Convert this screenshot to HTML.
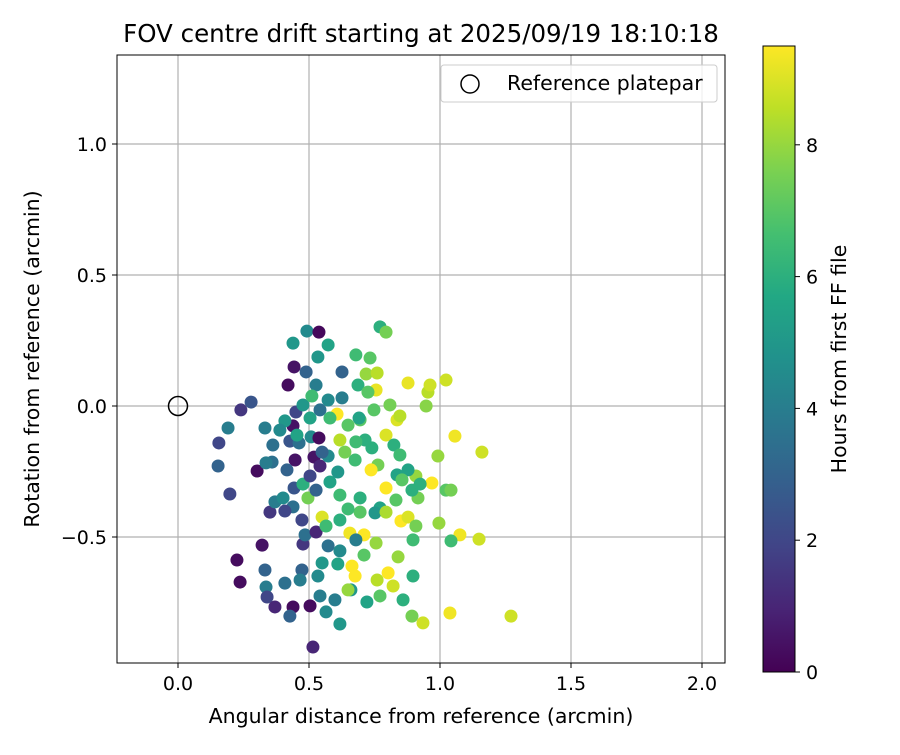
<!DOCTYPE html>
<html><head><meta charset="utf-8"><style>
body{margin:0;background:#fff}
svg text{font-family:"DejaVu Sans","Liberation Sans",sans-serif;fill:#000}
</style></head><body>
<svg id="chart" width="900" height="750" xmlns="http://www.w3.org/2000/svg">
<defs><linearGradient id="vir" x1="0" y1="1" x2="0" y2="0">
<stop offset="0" stop-color="#440154"/><stop offset="0.1" stop-color="#482475"/><stop offset="0.2" stop-color="#414487"/><stop offset="0.3" stop-color="#355f8d"/><stop offset="0.4" stop-color="#2a788e"/><stop offset="0.5" stop-color="#21918c"/><stop offset="0.6" stop-color="#22a884"/><stop offset="0.7" stop-color="#44bf70"/><stop offset="0.8" stop-color="#7ad151"/><stop offset="0.9" stop-color="#bddf26"/><stop offset="1" stop-color="#fde725"/>
</linearGradient></defs>
<rect width="900" height="750" fill="#fff"/>
<text x="421" y="42" font-size="24.5" text-anchor="middle">FOV centre drift starting at 2025/09/19 18:10:18</text>
<g id="grid"></g>
<g id="points"></g>
<rect x="117" y="55" width="608" height="608" fill="none" stroke="#000" stroke-width="1"/>
<g id="ticks"></g>
<text x="421" y="723" font-size="20.5" text-anchor="middle">Angular distance from reference (arcmin)</text>
<text transform="translate(39,359) rotate(-90)" font-size="20.5" text-anchor="middle">Rotation from reference (arcmin)</text>
<g>
<rect x="441" y="65" width="276" height="37" rx="3" fill="#fff" fill-opacity="0.8" stroke="#ccc"/>
<circle cx="470" cy="84" r="9" fill="none" stroke="#000" stroke-width="1.5"/>
<text x="507" y="90" font-size="20.5">Reference platepar</text>
</g>
<g>
<rect x="763" y="46" width="32" height="626" fill="url(#vir)" stroke="#000" stroke-width="1"/>
<g id="cbticks"></g>
<text transform="translate(846,359) rotate(-90)" font-size="20.5" text-anchor="middle">Hours from first FF file</text>
</g>
</svg>
<script>
const xTicks=[0.0,0.5,1.0,1.5,2.0];
const yTicks=[-0.5,0.0,0.5,1.0];
const cbTicks=[0,2,4,6,8];
const xs=[0.279,0.240,0.191,0.156,0.153,0.198,0.302,0.332,0.225,0.237,0.321,0.332,0.336,0.340,0.370,0.439,0.427,0.504,0.515,0.542,0.565,0.618,
0.492,0.538,0.439,0.573,0.534,0.443,0.489,0.626,0.420,0.527,0.771,0.794,0.679,0.733,0.718,0.760,0.878,0.954,0.962,1.023,0.947,0.756,0.687,0.725,
0.607,0.618,0.695,0.748,0.809,0.836,0.847,0.794,0.740,0.676,0.763,0.737,0.794,0.836,0.908,0.916,0.969,1.023,1.042,0.992,1.057,1.160,
0.851,0.878,0.908,0.996,1.076,1.042,1.149,0.897,0.840,0.656,0.710,0.756,0.710,0.664,0.676,0.802,0.821,0.771,0.859,0.897,0.893,0.935,1.038,1.271,
0.721,0.660,0.599,0.534,0.473,0.477,0.485,0.527,0.573,0.618,0.473,0.439,0.408,0.351,0.370,0.401,0.443,0.477,0.496,0.527,0.580,0.618,0.504,0.519,0.542,0.573,
0.447,0.416,0.359,0.336,0.362,0.427,0.462,0.508,0.538,0.550,0.637,0.610,0.695,0.771,0.752,0.618,0.695,0.550,0.565,0.649,
0.439,0.408,0.450,0.477,0.504,0.542,0.580,0.573,0.626,0.511,0.649,0.691,0.714,0.679,0.824,0.847,0.878,0.893,0.924,0.832,0.855,0.794,0.679,0.649,0.760,0.454,0.389,0.466,0.408,0.550,0.610];
const ys=[0.015,-0.015,-0.084,-0.141,-0.229,-0.336,-0.248,-0.084,-0.588,-0.672,-0.531,-0.626,-0.691,-0.729,-0.767,-0.767,-0.802,-0.763,-0.920,-0.725,-0.786,-0.832,
0.286,0.282,0.240,0.233,0.187,0.149,0.130,0.130,0.080,0.080,0.302,0.282,0.195,0.183,0.122,0.126,0.088,0.053,0.080,0.099,0.000,0.061,0.080,0.053,
-0.031,-0.130,-0.053,-0.015,0.004,-0.053,-0.038,-0.111,-0.160,-0.206,-0.225,-0.244,-0.313,-0.263,-0.267,-0.351,-0.294,-0.321,-0.321,-0.191,-0.115,-0.176,
-0.439,-0.424,-0.458,-0.447,-0.492,-0.515,-0.508,-0.511,-0.576,-0.485,-0.492,-0.523,-0.569,-0.611,-0.649,-0.637,-0.687,-0.725,-0.740,-0.649,-0.802,-0.828,-0.790,-0.802,
-0.748,-0.702,-0.740,-0.649,-0.626,-0.527,-0.492,-0.481,-0.534,-0.553,-0.435,-0.385,-0.401,-0.405,-0.366,-0.351,-0.313,-0.298,-0.351,-0.321,-0.290,-0.340,-0.267,-0.195,-0.229,-0.191,
-0.206,-0.244,-0.214,-0.217,-0.149,-0.134,-0.141,-0.118,-0.122,-0.176,-0.176,-0.252,-0.351,-0.389,-0.408,-0.435,-0.405,-0.424,-0.458,-0.393,
-0.076,-0.057,-0.023,0.004,-0.046,-0.015,-0.046,0.023,0.031,0.038,-0.073,-0.046,-0.130,-0.137,-0.149,-0.187,-0.244,-0.321,-0.298,-0.359,-0.282,-0.405,-0.511,-0.702,-0.664,-0.111,-0.092,-0.664,-0.676,-0.599,-0.603];
const hours=[2.5,1.5,4,2,3,2,0.3,4,0.3,0.3,0.5,3,4,2,1,0.3,3,0.3,1,4,4.5,5,
4.5,0.2,5,5.5,5,0.5,3,3,0.3,4,6,7.5,6.5,7,8,8.5,9.2,8.5,8.8,8.8,7.8,9.2,6,7,
9.5,8.5,7,7,7.5,9,8.5,9,6,6.5,7.5,9.5,9.5,5.5,8,7.5,9.5,7,7.5,8,9.3,8.8,
9.5,9,7.5,8,9.3,6.5,8.8,6.5,8,9.3,9.5,8,7,9.5,9.5,9.5,8.8,7,6,6,7.5,8.8,9.3,8.8,
5.5,5,4,4.5,3,1.5,3.5,1,3.5,4.5,2,3.5,2,1.5,4,4.5,2.5,6,7.5,3,5.5,6.5,2,0.5,1,4.5,
0.5,3,3.5,4,3.5,2.5,3.5,4.5,0.3,3,7.5,5,6,5.5,5,6,7,9,6.5,6.5,
0.5,5,2,5,5.5,3.5,6.5,4.5,4,6.5,7,5.5,6,6.5,6,6.5,5.5,6,6,7,7,8.3,4,8,8.5,5.5,4.5,4,3.5,5,5.5];
const NS="http://www.w3.org/2000/svg";
const X=v=>178+(v)*262, Y=v=>406-v*262, C=h=>672-h*65.9;
const stops=["#440154","#482475","#414487","#355f8d","#2a788e","#21918c","#22a884","#44bf70","#7ad151","#bddf26","#fde725"];
function hex(c){return [1,3,5].map(i=>parseInt(c.substr(i,2),16));}
function vir(t){t=Math.max(0,Math.min(1,t))*10;const i=Math.min(9,Math.floor(t)),f=t-i;const a=hex(stops[i]),b=hex(stops[i+1]);return `rgb(${a.map((v,k)=>Math.round(v+(b[k]-v)*f)).join(',')})`;}
function el(tag,attrs,parent){const e=document.createElementNS(NS,tag);for(const k in attrs)e.setAttribute(k,attrs[k]);parent.appendChild(e);return e;}
const grid=document.getElementById('grid'),ticks=document.getElementById('ticks'),pts=document.getElementById('points'),cb=document.getElementById('cbticks');
xTicks.forEach(v=>{const x=X(v);
const g=el('line',{x1:x,x2:x,y1:55,y2:663,stroke:'#b0b0b0','stroke-width':1.2},grid);


el('line',{x1:x,x2:x,y1:663,y2:668,stroke:'#000'},ticks);
const t=el('text',{x:x,y:690,'font-size':19,'text-anchor':'middle'},ticks);t.textContent=v.toFixed(1);

});
yTicks.forEach(v=>{const y=Y(v);
const g=el('line',{x1:117,x2:725,y1:y,y2:y,stroke:'#b0b0b0','stroke-width':1.2},grid);


el('line',{x1:112,x2:117,y1:y,y2:y,stroke:'#000'},ticks);
const t=el('text',{x:107,y:y+7,'font-size':19,'text-anchor':'end'},ticks);t.textContent=(v<0?'\u2212':'')+Math.abs(v).toFixed(1);

});
const ref=el('circle',{cx:X(0),cy:Y(0),r:9.5,fill:'none',stroke:'#000','stroke-width':1.5},pts);


xs.forEach((x,i)=>{const c=el('circle',{cx:X(x),cy:Y(ys[i]),r:6.5,fill:vir(hours[i]/9.5)},pts);

});
cbTicks.forEach(h=>{const y=C(h);el('line',{x1:795,x2:800,y1:y,y2:y,stroke:'#000'},cb);
const t=el('text',{x:806,y:y+7,'font-size':19},cb);t.textContent=h;

});
</script>
</body></html>
